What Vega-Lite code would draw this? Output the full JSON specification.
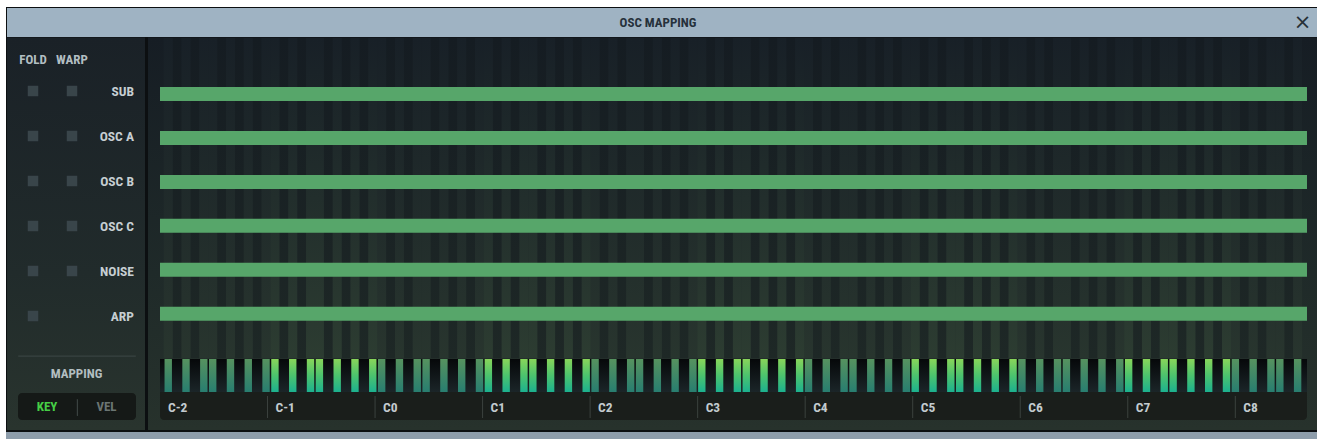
{
"$schema": "https://vega.github.io/schema/vega-lite/v6.json",
"width": 1317, "height": 439,
"autosize": {"type": "fit", "contains": "padding"},
"padding": 0,
"background": "white",
"config": {"view": {"stroke": null}},
"datasets": {
"chrome": [
{"part":"border","g":1,"x":6,"x2":1317,"y":7,"y2":432},
{"part":"title","g":1,"x":7,"x2":1317,"y":8,"y2":37},
{"part":"strip","g":1,"x":6,"x2":1317,"y":432,"y2":439},
{"part":"left","g":0,"x":7,"x2":145,"y":37.5,"y2":430},
{"part":"main","g":0,"x":148,"x2":1317,"y":37.5,"y2":430},
{"part":"lbar","g":2,"x":160,"x2":1307,"y":386,"y2":420},
{"part":"mdiv","g":2,"x":18,"x2":136,"y":355.5,"y2":356.7},
{"part":"btn","g":2,"x":18,"x2":136,"y":393,"y2":420},
{"part":"bsep","g":2,"x":76.8,"x2":78,"y":399,"y2":416},
{"part":"kbd","g":0,"x":160,"x2":1307,"y":359,"y2":392}
],
"texts": [
{"t":"OSC MAPPING","x":658,"y":23,"s":"title"},
{"t":"FOLD","x":33,"y":59.5,"s":"hdr"},
{"t":"WARP","x":72,"y":59.5,"s":"hdr"},
{"t":"MAPPING","x":76.5,"y":373.5,"s":"map"},
{"t":"KEY","x":47,"y":407,"s":"on"},
{"t":"VEL","x":106.5,"y":407,"s":"off"}
],
"ch": [
{"name":"SUB","r":0,"warp":true,"lo":0,"hi":127},
{"name":"OSC A","r":1,"warp":true,"lo":0,"hi":127},
{"name":"OSC B","r":2,"warp":true,"lo":0,"hi":127},
{"name":"OSC C","r":3,"warp":true,"lo":0,"hi":127},
{"name":"NOISE","r":4,"warp":true,"lo":0,"hi":127},
{"name":"ARP","r":5,"warp":false,"lo":0,"hi":127}
],
"oct": [
{"t":"C-2","n":0},{"t":"C-1","n":12},{"t":"C0","n":24},{"t":"C1","n":36},{"t":"C2","n":48},{"t":"C3","n":60},
{"t":"C4","n":72},{"t":"C5","n":84},{"t":"C6","n":96},{"t":"C7","n":108},{"t":"C8","n":120}
],
"keys": [
{"n":0,"k":"w"},{"n":1,"k":"b"},{"n":2,"k":"w"},{"n":3,"k":"b"},{"n":4,"k":"w"},{"n":5,"k":"w"},{"n":6,"k":"b"},{"n":7,"k":"w"},{"n":8,"k":"b"},{"n":9,"k":"w"},{"n":10,"k":"b"},{"n":11,"k":"w"},
{"n":12,"k":"W"},{"n":13,"k":"b"},{"n":14,"k":"W"},{"n":15,"k":"b"},{"n":16,"k":"W"},{"n":17,"k":"W"},{"n":18,"k":"b"},{"n":19,"k":"W"},{"n":20,"k":"b"},{"n":21,"k":"W"},{"n":22,"k":"b"},{"n":23,"k":"W"},
{"n":24,"k":"w"},{"n":25,"k":"b"},{"n":26,"k":"w"},{"n":27,"k":"b"},{"n":28,"k":"w"},{"n":29,"k":"w"},{"n":30,"k":"b"},{"n":31,"k":"w"},{"n":32,"k":"b"},{"n":33,"k":"w"},{"n":34,"k":"b"},{"n":35,"k":"w"},
{"n":36,"k":"W"},{"n":37,"k":"b"},{"n":38,"k":"W"},{"n":39,"k":"b"},{"n":40,"k":"W"},{"n":41,"k":"W"},{"n":42,"k":"b"},{"n":43,"k":"W"},{"n":44,"k":"b"},{"n":45,"k":"W"},{"n":46,"k":"b"},{"n":47,"k":"W"},
{"n":48,"k":"w"},{"n":49,"k":"b"},{"n":50,"k":"w"},{"n":51,"k":"b"},{"n":52,"k":"w"},{"n":53,"k":"w"},{"n":54,"k":"b"},{"n":55,"k":"w"},{"n":56,"k":"b"},{"n":57,"k":"w"},{"n":58,"k":"b"},{"n":59,"k":"w"},
{"n":60,"k":"W"},{"n":61,"k":"b"},{"n":62,"k":"W"},{"n":63,"k":"b"},{"n":64,"k":"W"},{"n":65,"k":"W"},{"n":66,"k":"b"},{"n":67,"k":"W"},{"n":68,"k":"b"},{"n":69,"k":"W"},{"n":70,"k":"b"},{"n":71,"k":"W"},
{"n":72,"k":"w"},{"n":73,"k":"b"},{"n":74,"k":"w"},{"n":75,"k":"b"},{"n":76,"k":"w"},{"n":77,"k":"w"},{"n":78,"k":"b"},{"n":79,"k":"w"},{"n":80,"k":"b"},{"n":81,"k":"w"},{"n":82,"k":"b"},{"n":83,"k":"w"},
{"n":84,"k":"W"},{"n":85,"k":"b"},{"n":86,"k":"W"},{"n":87,"k":"b"},{"n":88,"k":"W"},{"n":89,"k":"W"},{"n":90,"k":"b"},{"n":91,"k":"W"},{"n":92,"k":"b"},{"n":93,"k":"W"},{"n":94,"k":"b"},{"n":95,"k":"W"},
{"n":96,"k":"w"},{"n":97,"k":"b"},{"n":98,"k":"w"},{"n":99,"k":"b"},{"n":100,"k":"w"},{"n":101,"k":"w"},{"n":102,"k":"b"},{"n":103,"k":"w"},{"n":104,"k":"b"},{"n":105,"k":"w"},{"n":106,"k":"b"},{"n":107,"k":"w"},
{"n":108,"k":"W"},{"n":109,"k":"b"},{"n":110,"k":"W"},{"n":111,"k":"b"},{"n":112,"k":"W"},{"n":113,"k":"W"},{"n":114,"k":"b"},{"n":115,"k":"W"},{"n":116,"k":"b"},{"n":117,"k":"W"},{"n":118,"k":"b"},{"n":119,"k":"W"},
{"n":120,"k":"w"},{"n":121,"k":"b"},{"n":122,"k":"w"},{"n":123,"k":"b"},{"n":124,"k":"w"},{"n":125,"k":"w"},{"n":126,"k":"b"},{"n":127,"k":"w"}
]
},
"resolve": {"scale": {"x": "independent", "y": "independent", "color": "independent"}},
"layer": [
{"data": {"name": "chrome"}, "transform": [{"filter": "datum.g == 1"}],
 "mark": {"type": "rect"},
 "encoding": {
  "x": {"field": "x", "type": "quantitative", "scale": {"domain": [0,1317], "nice": false, "zero": false}, "axis": null},
  "x2": {"field": "x2"},
  "y": {"field": "y", "type": "quantitative", "scale": {"domain": [0,439], "reverse": true, "nice": false, "zero": false}, "axis": null},
  "y2": {"field": "y2"},
  "color": {"field": "part", "type": "nominal", "legend": null, "scale": {"domain": ["border","title","strip"], "range": ["#0c0f11","#9fb3c3","#8e9dab"]}}
 }},
{"data": {"name": "chrome"}, "transform": [{"filter": "datum.part == 'left'"}],
 "mark": {"type": "rect", "color": {"gradient": "linear", "x1": 0, "y1": 0, "x2": 0, "y2": 1, "stops": [{"offset": 0, "color": "#1a2127"}, {"offset": 0.6, "color": "#212b2b"}, {"offset": 1, "color": "#29342e"}]}},
 "encoding": {
  "x": {"field": "x", "type": "quantitative", "scale": {"domain": [0,1317], "nice": false, "zero": false}, "axis": null},
  "x2": {"field": "x2"},
  "y": {"field": "y", "type": "quantitative", "scale": {"domain": [0,439], "reverse": true, "nice": false, "zero": false}, "axis": null},
  "y2": {"field": "y2"}
 }},
{"data": {"name": "chrome"}, "transform": [{"filter": "datum.part == 'main'"}],
 "mark": {"type": "rect", "color": {"gradient": "linear", "x1": 0, "y1": 0, "x2": 0, "y2": 1, "stops": [{"offset": 0, "color": "#161d24"}, {"offset": 0.6, "color": "#1f2a29"}, {"offset": 1, "color": "#27322c"}]}},
 "encoding": {
  "x": {"field": "x", "type": "quantitative", "scale": {"domain": [0,1317], "nice": false, "zero": false}, "axis": null},
  "x2": {"field": "x2"},
  "y": {"field": "y", "type": "quantitative", "scale": {"domain": [0,439], "reverse": true, "nice": false, "zero": false}, "axis": null},
  "y2": {"field": "y2"}
 }},
{"data": {"name": "keys"}, "transform": [{"filter": "datum.k == 'b'"}],
 "mark": {"type": "bar", "width": 8.96, "color": {"gradient": "linear", "x1": 0, "y1": 0, "x2": 0, "y2": 1, "stops": [{"offset": 0, "color": "#151c22"}, {"offset": 1, "color": "#1e2826"}]}},
 "encoding": {
  "x": {"field": "n", "type": "quantitative", "scale": {"domain": [-18.3554, 128.617], "nice": false, "zero": false}, "axis": null},
  "y": {"datum": 38, "type": "quantitative", "scale": {"domain": [0,439], "reverse": true, "nice": false, "zero": false}, "axis": null},
  "y2": {"datum": 358}
 }},
{"data": {"name": "keys"}, "transform": [{"filter": "datum.k == 'w'"}],
 "mark": {"type": "bar", "width": 8.96, "color": {"gradient": "linear", "x1": 0, "y1": 0, "x2": 0, "y2": 1, "stops": [{"offset": 0, "color": "#182027"}, {"offset": 1, "color": "#28352e"}]}},
 "encoding": {
  "x": {"field": "n", "type": "quantitative", "scale": {"domain": [-18.3554, 128.617], "nice": false, "zero": false}, "axis": null},
  "y": {"datum": 38, "type": "quantitative", "scale": {"domain": [0,439], "reverse": true, "nice": false, "zero": false}, "axis": null},
  "y2": {"datum": 358}
 }},
{"data": {"name": "keys"}, "transform": [{"filter": "datum.k == 'W'"}],
 "mark": {"type": "bar", "width": 8.96, "color": {"gradient": "linear", "x1": 0, "y1": 0, "x2": 0, "y2": 1, "stops": [{"offset": 0, "color": "#182027"}, {"offset": 1, "color": "#2c3c31"}]}},
 "encoding": {
  "x": {"field": "n", "type": "quantitative", "scale": {"domain": [-18.3554, 128.617], "nice": false, "zero": false}, "axis": null},
  "y": {"datum": 38, "type": "quantitative", "scale": {"domain": [0,439], "reverse": true, "nice": false, "zero": false}, "axis": null},
  "y2": {"datum": 358}
 }},
{"data": {"name": "chrome"}, "transform": [{"filter": "datum.g == 2"}],
 "mark": {"type": "rect", "cornerRadius": 4},
 "encoding": {
  "x": {"field": "x", "type": "quantitative", "scale": {"domain": [0,1317], "nice": false, "zero": false}, "axis": null},
  "x2": {"field": "x2"},
  "y": {"field": "y", "type": "quantitative", "scale": {"domain": [0,439], "reverse": true, "nice": false, "zero": false}, "axis": null},
  "y2": {"field": "y2"},
  "color": {"field": "part", "type": "nominal", "legend": null, "scale": {"domain": ["lbar","mdiv","btn","bsep"], "range": ["#1a1e1b","#394341","#151917","#3a4240"]}}
 }},
{"data": {"name": "chrome"}, "transform": [{"filter": "datum.part == 'kbd'"}],
 "mark": {"type": "rect", "color": {"gradient": "linear", "x1": 0, "y1": 0, "x2": 0, "y2": 1, "stops": [{"offset": 0, "color": "#06080a"}, {"offset": 1, "color": "#1b2528"}]}},
 "encoding": {
  "x": {"field": "x", "type": "quantitative", "scale": {"domain": [0,1317], "nice": false, "zero": false}, "axis": null},
  "x2": {"field": "x2"},
  "y": {"field": "y", "type": "quantitative", "scale": {"domain": [0,439], "reverse": true, "nice": false, "zero": false}, "axis": null},
  "y2": {"field": "y2"}
 }},
{"data": {"name": "keys"}, "transform": [{"filter": "datum.k == 'w'"}],
 "mark": {"type": "bar", "width": 7.4, "color": {"gradient": "linear", "x1": 0, "y1": 0, "x2": 0, "y2": 1, "stops": [{"offset": 0, "color": "#56925f"}, {"offset": 1, "color": "#287e70"}]}},
 "encoding": {
  "x": {"field": "n", "type": "quantitative", "scale": {"domain": [-18.3554, 128.617], "nice": false, "zero": false}, "axis": null},
  "y": {"datum": 359, "type": "quantitative", "scale": {"domain": [0,439], "reverse": true, "nice": false, "zero": false}, "axis": null},
  "y2": {"datum": 392}
 }},
{"data": {"name": "keys"}, "transform": [{"filter": "datum.k == 'W'"}],
 "mark": {"type": "bar", "width": 7.4, "color": {"gradient": "linear", "x1": 0, "y1": 0, "x2": 0, "y2": 1, "stops": [{"offset": 0, "color": "#88d55a"}, {"offset": 0.5, "color": "#4cc36e"}, {"offset": 1, "color": "#1cb18f"}]}},
 "encoding": {
  "x": {"field": "n", "type": "quantitative", "scale": {"domain": [-18.3554, 128.617], "nice": false, "zero": false}, "axis": null},
  "y": {"datum": 359, "type": "quantitative", "scale": {"domain": [0,439], "reverse": true, "nice": false, "zero": false}, "axis": null},
  "y2": {"datum": 392}
 }},
{"data": {"name": "oct"}, "transform": [{"filter": "datum.n > 0"}],
 "mark": {"type": "rule", "color": "#3b423e", "strokeWidth": 1},
 "encoding": {
  "x": {"field": "n", "type": "quantitative", "scale": {"domain": [-17.8554, 129.117], "nice": false, "zero": false}, "axis": null},
  "y": {"datum": 396, "type": "quantitative", "scale": {"domain": [0,439], "reverse": true, "nice": false, "zero": false}, "axis": null},
  "y2": {"datum": 418}
 }},
{"data": {"name": "oct"},
 "mark": {"type": "text", "align": "left", "baseline": "middle", "dx": 8, "dy": 0.5, "font": "Roboto Condensed, Roboto, sans-serif", "fontWeight": "bold", "fontSize": 13.5, "color": "#c3cbcf"},
 "encoding": {
  "x": {"field": "n", "type": "quantitative", "scale": {"domain": [-17.8554, 129.117], "nice": false, "zero": false}, "axis": null},
  "y": {"datum": 407, "type": "quantitative", "scale": {"domain": [0,439], "reverse": true, "nice": false, "zero": false}, "axis": null},
  "text": {"field": "t"}
 }},
{"data": {"name": "ch"},
 "mark": {"type": "bar", "height": 14, "color": "#57a66a"},
 "encoding": {
  "x": {"field": "lo", "type": "quantitative", "scale": {"domain": [-17.7158, 128.1073], "nice": false, "zero": false}, "axis": null},
  "x2": {"field": "hi"},
  "y": {"field": "r", "type": "quantitative", "scale": {"domain": [-2.02222, 7.73333], "reverse": true, "nice": false, "zero": false}, "axis": null}
 }},
{"data": {"name": "ch"},
 "mark": {"type": "point", "shape": "square", "filled": true, "size": 110, "opacity": 1, "color": "#39454a"},
 "encoding": {
  "x": {"datum": 33, "type": "quantitative", "scale": {"domain": [0,1317], "nice": false, "zero": false}, "axis": null},
  "y": {"field": "r", "type": "quantitative", "scale": {"domain": [-2.02222, 7.73333], "reverse": true, "nice": false, "zero": false}, "axis": null}
 }},
{"data": {"name": "ch"}, "transform": [{"filter": "datum.warp"}],
 "mark": {"type": "point", "shape": "square", "filled": true, "size": 110, "opacity": 1, "color": "#39454a"},
 "encoding": {
  "x": {"datum": 72, "type": "quantitative", "scale": {"domain": [0,1317], "nice": false, "zero": false}, "axis": null},
  "y": {"field": "r", "type": "quantitative", "scale": {"domain": [-2.02222, 7.73333], "reverse": true, "nice": false, "zero": false}, "axis": null}
 }},
{"data": {"name": "ch"},
 "mark": {"type": "text", "align": "right", "baseline": "middle", "dy": 1, "font": "Roboto Condensed, Roboto, sans-serif", "fontWeight": "bold", "fontSize": 13.5, "color": "#c6ced2"},
 "encoding": {
  "x": {"datum": 134, "type": "quantitative", "scale": {"domain": [0,1317], "nice": false, "zero": false}, "axis": null},
  "y": {"field": "r", "type": "quantitative", "scale": {"domain": [-2.02222, 7.73333], "reverse": true, "nice": false, "zero": false}, "axis": null},
  "text": {"field": "name"}
 }},
{"data": {"name": "texts"},
 "mark": {"type": "text", "align": "center", "baseline": "middle", "font": "Roboto Condensed, Roboto, sans-serif", "fontWeight": "bold", "fontSize": 13},
 "encoding": {
  "x": {"field": "x", "type": "quantitative", "scale": {"domain": [0,1317], "nice": false, "zero": false}, "axis": null},
  "y": {"field": "y", "type": "quantitative", "scale": {"domain": [0,439], "reverse": true, "nice": false, "zero": false}, "axis": null},
  "text": {"field": "t"},
  "color": {"field": "s", "type": "nominal", "legend": null, "scale": {"domain": ["title","hdr","map","on","off"], "range": ["#26313b","#b2bdc2","#b3bec0","#46cf46","#6b7573"]}}
 }},
{"data": {"values": [{"t": "×", "x": 1302.5, "y": 22.5}]},
 "mark": {"type": "text", "align": "center", "baseline": "middle", "font": "DejaVu Sans", "fontSize": 21, "color": "#263038"},
 "encoding": {
  "x": {"field": "x", "type": "quantitative", "scale": {"domain": [0,1317], "nice": false, "zero": false}, "axis": null},
  "y": {"field": "y", "type": "quantitative", "scale": {"domain": [0,439], "reverse": true, "nice": false, "zero": false}, "axis": null},
  "text": {"field": "t"}
 }}
]
}
